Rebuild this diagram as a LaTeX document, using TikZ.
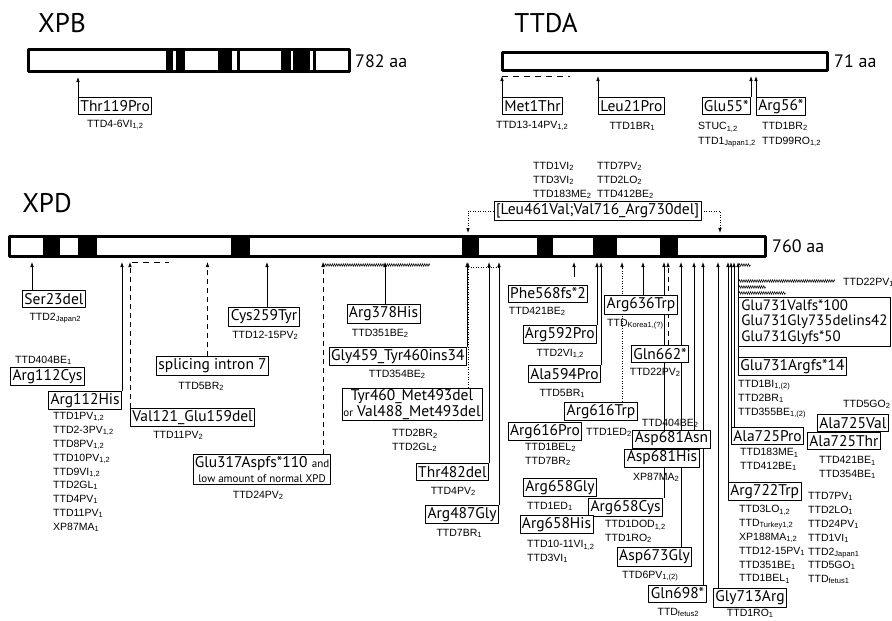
\documentclass[tikz,border=0pt]{standalone}
\usepackage{fontspec}
\setmainfont{PT Sans}
\newfontfamily\labfont{Liberation Sans}
\usetikzlibrary{arrows.meta,decorations.pathmorphing}
\pgfdeclarelayer{bg}
\pgfsetlayers{bg,main}
\newcommand\sbs[1]{\raisebox{-0.2ex}{\fontsize{7.5}{8}\selectfont #1}}
\newcommand\sm[1]{{\fontsize{11}{12}\selectfont #1}}
\tikzset{
  mbox/.style={draw,line width=0.8pt,fill=white,inner sep=2pt,minimum height=17pt,
    font=\fontsize{15.5}{15.5}\selectfont},
  pat/.style={inner sep=0pt,align=left,font=\labfont\fontsize{10.5}{13.8}\selectfont},
  title/.style={inner sep=0pt,font=\fontsize{27}{27}\selectfont},
  len/.style={inner sep=0pt,anchor=west,font=\fontsize{18}{18}\selectfont},
  bar/.style={draw,line width=3pt},
  mut/.style={line width=0.8pt,-{Latex[length=5pt,width=3.6pt]}},
  mutopen/.style={mut,-{Latex[open,length=5pt,width=3.6pt]}},
  mutdash/.style={mut,dash pattern=on 5pt off 4pt},
  mutdot/.style={mut,dash pattern=on 1pt off 1.5pt},
  dashline/.style={line width=0.8pt,dash pattern=on 6pt off 5pt},
  dotline/.style={line width=0.8pt,dash pattern=on 1pt off 1.5pt},
  zig/.style={line width=0.5pt,decorate,decoration={zigzag,segment length=2.2pt,amplitude=1.3pt}}
}
\begin{document}
\begin{tikzpicture}[x=1pt,y=-1pt,line join=round]
  \useasboundingbox (0,0) rectangle (892,621);
  % XPB
  \node[title] (xpbname) at (62,23) {XPB};
  \foreach \a/\b in {166/173,176/185,218/232,237/240,281/291,293/310,313/316}
    \fill (\a,49) rectangle (\b,71);
  \draw[bar] (28,49) rectangle (349,71);
  \node[len] (xpblen) at (355,61) {782 aa};
  \coordinate (xpbtip) at (0,77);
  \node[mbox,anchor=north west] (t119p) at (78,97) {Thr119Pro};
  \draw[mut] (t119p.north west) -- (t119p.north west |- xpbtip);
  \node[pat] at (115,125) {TTD4-6VI\sbs{1,2}};

  % TTDA
  \node[title] (ttdaname) at (546,23) {TTDA};
  \draw[bar] (502,52) rectangle (827,70);
  \node[len] (ttdalen) at (834,61) {71 aa};
  \coordinate (ttdatip) at (0,76);
  \node[mbox,anchor=north west] (m1t) at (502,97) {Met1Thr};
  \draw[mut] (m1t.north west) -- (m1t.north west |- ttdatip);
  \draw[dashline] (m1t.north west |- ttdatip) -- ++(68,0);
  \node[mbox,anchor=north west] (l21p) at (598,97) {Leu21Pro};
  \draw[mut] (l21p.north west) -- (l21p.north west |- ttdatip);
  \node[mbox,anchor=north east] (e55x) at (751,97) {Glu55*};
  \draw[mut] (e55x.north east) -- (e55x.north east |- ttdatip);
  \node[mbox,anchor=north west] (r56x) at (756,97) {Arg56*};
  \draw[mut] (r56x.north west) -- (r56x.north west |- ttdatip);
  \node[pat] at (532,126) {TTD13-14PV\sbs{1,2}};
  \node[pat] at (632,126) {TTD1BR\sbs1};
  \node[pat,anchor=north west] at (698,122.4) {STUC\sbs{1,2}\\[1pt]TTD1\sbs{Japan1,2}};
  \node[pat,anchor=north west] at (762,122.4) {TTD1BR\sbs2\\[1pt]TTD99RO\sbs{1,2}};

  % XPD
  \node[title] (xpdname) at (47,203) {XPD};
  \foreach \a/\b in {43/60,78/97,231/250,462/479,537/553,593/617,660/678}
    \fill (\a,236) rectangle (\b,256);
  \draw[bar] (9,236) rectangle (765,256);
  \node[len] (xpdlen) at (772,246) {760 aa};
  \coordinate (xpdtip) at (0,262);

  % in-frame double mutation above the bar
  \node[mbox] (l461) at (597.5,211) {[Leu461Val;Val716\_Arg730del]};
  \coordinate (ldel) at (468,233);
  \coordinate (rdel) at (720,233);
  \draw[mutdot] (l461.west) -| (ldel);
  \draw[mutdot] (l461.east) -| (rdel);
  \draw[dotline] (rdel) ++(3,2) -- ++(16,0);
  \node[pat,anchor=north west] at (533,162.4) {TTD1VI\sbs2\\TTD3VI\sbs2\\TTD183ME\sbs2};
  \node[pat,anchor=north west] at (597,162.4) {TTD7PV\sbs2\\TTD2LO\sbs2\\TTD412BE\sbs2};

  % mutations below the bar
  \node[mbox,anchor=north west] (s23d) at (22,290) {Ser23del};
  \node[pat] at (55,318) {TTD2\sbs{Japan2}};
  \node[mbox] (r112c) at (47.5,376.5) {Arg112Cys};
  \node[pat,anchor=west] at (15,360) {TTD404BE\sbs1};
  \node[mbox,anchor=north east] (r112h) at (122,391) {Arg112His};
  \node[pat,anchor=north west] at (53,412.4) {TTD1PV\sbs{1,2}\\TTD2-3PV\sbs{1,2}\\TTD8PV\sbs{1,2}\\TTD10PV\sbs{1,2}\\TTD9VI\sbs{1,2}\\TTD2GL\sbs1\\TTD4PV\sbs1\\TTD11PV\sbs1\\XP87MA\sbs1};
  \node[mbox,anchor=north west] (v121) at (130,408) {Val121\_Glu159del};
  \node[pat] at (178,435) {TTD11PV\sbs2};
  \node[mbox] (spl7) at (212.5,366) {splicing intron 7};
  \node[pat] at (201,386) {TTD5BR\sbs2};
  \node[mbox] (c259) at (264,317) {Cys259Tyr};
  \node[pat] at (265,335) {TTD12-15PV\sbs2};
  \node[mbox,align=center,inner sep=1.5pt] (e317) at (262,469.5) {Glu317Aspfs*110 \sm{and}\\\sm{low amount of normal XPD}};
  \node[pat] at (258,495) {TTD24PV\sbs2};
  \node[mbox] (r378) at (383.5,314) {Arg378His};
  \node[pat] at (380,333) {TTD351BE\sbs2};
  \node[mbox,anchor=north east] (g459) at (467,347) {Gly459\_Tyr460ins34};
  \node[pat] at (397,374) {TTD354BE\sbs2};
  \node[mbox,align=center,inner sep=1.5pt] (y460) at (412,404.5) {Tyr460\_Met493del\\\sm{or} Val488\_Met493del};
  \node[pat,anchor=north west] at (392,429.4) {TTD2BR\sbs2\\TTD2GL\sbs2};
  \node[mbox,anchor=north east] (t482) at (489,463) {Thr482del};
  \node[pat] at (453,491) {TTD4PV\sbs2};
  \node[mbox,anchor=north east] (r487) at (499,505) {Arg487Gly};
  \node[pat] at (459,533) {TTD7BR\sbs1};
  \node[mbox] (f568) at (548,293.5) {Phe568fs*2};
  \node[pat] at (537,311) {TTD421BE\sbs2};
  \node[mbox,anchor=north east] (r592) at (597,325) {Arg592Pro};
  \node[pat] at (560,354) {TTD2VI\sbs{1,2}};
  \node[mbox,anchor=north east] (a594) at (601,365) {Ala594Pro};
  \node[pat] at (562,393) {TTD5BR\sbs1};
  \node[mbox] (r636) at (641,305) {Arg636Trp};
  \node[pat,anchor=west] at (607,324) {TTD\sbs{Korea1,(?)}};
  \node[mbox] (r616w) at (601,411.5) {Arg616Trp};
  \node[pat,anchor=west] at (586,432) {TTD1ED\sbs2};
  \node[mbox] (r616p) at (545,431.5) {Arg616Pro};
  \node[pat,anchor=north west] at (525,443.4) {TTD1BEL\sbs2\\TTD7BR\sbs2};
  \node[mbox] (q662) at (660,354) {Gln662*};
  \node[pat] at (655,372) {TTD22PV\sbs2};
  \node[mbox] (r658g) at (560,487.5) {Arg658Gly};
  \node[pat,anchor=west] at (527,506) {TTD1ED\sbs1};
  \node[mbox,anchor=north east] (r658c) at (663,498) {Arg658Cys};
  \node[pat,anchor=north west] at (605,520.4) {TTD1DOD\sbs{1,2}\\TTD1RO\sbs2};
  \node[mbox] (r658h) at (556.5,524.5) {Arg658His};
  \node[pat,anchor=north west] at (527,540.4) {TTD10-11VI\sbs{1,2}\\TTD3VI\sbs1};
  \node[pat] at (670,423) {TTD404BE\sbs2};
  \node[mbox] (d681n) at (671.5,439) {Asp681Asn};
  \node[mbox] (d681h) at (662,458) {Asp681His};
  \node[pat] at (656,477) {XP87MA\sbs2};
  \node[mbox] (d673) at (654.5,557) {Asp673Gly};
  \node[pat] at (650,576) {TTD6PV\sbs{1,(2)}};
  \node[mbox] (q698) at (677.5,593.5) {Gln698*};
  \node[pat] at (678,612) {TTD\sbs{fetus2}};
  \node[mbox] (g713) at (750,598) {Gly713Arg};
  \node[pat] at (750,613) {TTD1RO\sbs1};
  \node[mbox,anchor=north west] (r722) at (728,482) {Arg722Trp};
  \node[pat,anchor=north west] at (739,505.4) {TTD3LO\sbs{1,2}\\TTD\sbs{Turkey1,2}\\XP188MA\sbs{1,2}\\TTD12-15PV\sbs1\\TTD351BE\sbs1\\TTD1BEL\sbs1};
  \node[pat,anchor=north west] at (808,492.4) {TTD7PV\sbs1\\TTD2LO\sbs1\\TTD24PV\sbs1\\TTD1VI\sbs1\\TTD2\sbs{Japan1}\\TTD5GO\sbs1\\TTD\sbs{fetus1}};
  \node[mbox,anchor=north west] (a725p) at (731,427) {Ala725Pro};
  \node[pat,anchor=north west] at (740,448.4) {TTD183ME\sbs1\\TTD412BE\sbs1};
  \node[mbox,anchor=north west] (a725v) at (817,414) {Ala725Val};
  \node[pat,anchor=west] at (843,404) {TTD5GO\sbs2};
  \node[mbox,anchor=north west] (a725t) at (807,432) {Ala725Thr};
  \node[pat,anchor=north west] at (819,456.4) {TTD421BE\sbs1\\TTD354BE\sbs1};
  \node[mbox,anchor=north west,align=left,minimum width=152pt,inner sep=2pt,
    font=\fontsize{15}{15.5}\selectfont] (e731) at (738,297) {Glu731Valfs*100\\Glu731Gly735delins42\\Glu731Glyfs*50};
  \node[pat,anchor=west] at (843,282) {TTD22PV\sbs1};
  \node[mbox,anchor=north west] (e731r) at (738,357) {Glu731Argfs*14};
  \node[pat,anchor=north west] at (738,380.4) {TTD1BI\sbs{1,(2)}\\TTD2BR\sbs1\\TTD355BE\sbs{1,(2)}};

  \begin{pgfonlayer}{bg}
    \draw[mut] ([xshift=10pt]s23d.north west) coordinate (p) -- (p |- xpdtip);
    \draw[mut] (r112h.north east) -- (r112h.north east |- xpdtip);
    \draw[mutdash] (v121.north west) -- (v121.north west |- xpdtip);
    \draw[dashline] ([xshift=2pt]v121.north west |- xpdtip) -- ++(37,0);
    \draw[mutdash] ([xshift=-5pt]spl7.north) coordinate (p) -- (p |- xpdtip);
    \draw[mut] ([xshift=3pt]c259.north) coordinate (p) -- (p |- xpdtip);
    \draw[mutdash] ([xshift=61pt]e317.north) coordinate (p) -- (p |- xpdtip);
    \draw[zig] (p |- xpdtip) ++(0,3) -- ++(107,0);
    \draw[mut] ([xshift=1.5pt]r378.north) coordinate (p) -- (p |- xpdtip);
    \draw[mut] (g459.north east) -- (g459.north east |- xpdtip);
    \draw[mutopen,dash pattern=on 1pt off 1.5pt] ([xshift=56pt]y460.north) coordinate (p) -- (p |- xpdtip);
    \draw[dotline] (p |- xpdtip) ++(0,5) -- ++(32,0);
    \draw[mut] (t482.north east) -- (t482.north east |- xpdtip);
    \draw[mut] (r487.north east) -- (r487.north east |- xpdtip);
    \draw[mut,shorten <=8pt] ([xshift=26pt]f568.north) coordinate (p) -- (p |- xpdtip);
    \draw[mut] (r592.north east) -- (r592.north east |- xpdtip);
    \draw[mutopen] (a594.north east) -- (a594.north east |- xpdtip);
    \draw[mutdot] ([xshift=21pt]r616w.north) coordinate (p) -- (p |- xpdtip);
    \draw[mut] ([xshift=2pt]r636.north) coordinate (p) -- (p |- xpdtip);
    \draw[mut] ([xshift=1pt]r658c.north east) coordinate (p) -- (p |- xpdtip);
    \draw[mutdash] ([xshift=8pt]q662.north) coordinate (p) -- (p |- xpdtip);
    \draw[mut] ([xshift=26.5pt]d673.north) coordinate (p) -- (p |- xpdtip);
    \draw[mut] ([xshift=22.5pt]d681n.north) coordinate (p) -- (p |- xpdtip);
    \draw[mut] ([xshift=25.5pt]q698.north) coordinate (p) -- (p |- xpdtip);
    \draw[mut] ([xshift=5pt]g713.north west) coordinate (p) -- (p |- xpdtip);
    \draw[mut] (r722.north west) -- (r722.north west |- xpdtip);
    \draw[mut] (a725p.north west) -- (a725p.north west |- xpdtip);
    \draw[mut] ([xshift=3pt]a725p.north west) coordinate (p) -- (p |- xpdtip);
    \draw[mut] (e731r.north west) -- (e731r.north west |- xpdtip);
    \draw[zig] (e731r.north west |- xpdtip) ++(1,3) -- ++(12,0);
    \draw[zig] (e731.north west) ++(1,-16) -- ++(96,0);
    \draw[zig] (e731.north west) ++(1,-10) -- ++(27,0);
    \draw[zig] (e731.north west) ++(1,-4) -- ++(47,0);
  \end{pgfonlayer}
\end{tikzpicture}
\end{document}
